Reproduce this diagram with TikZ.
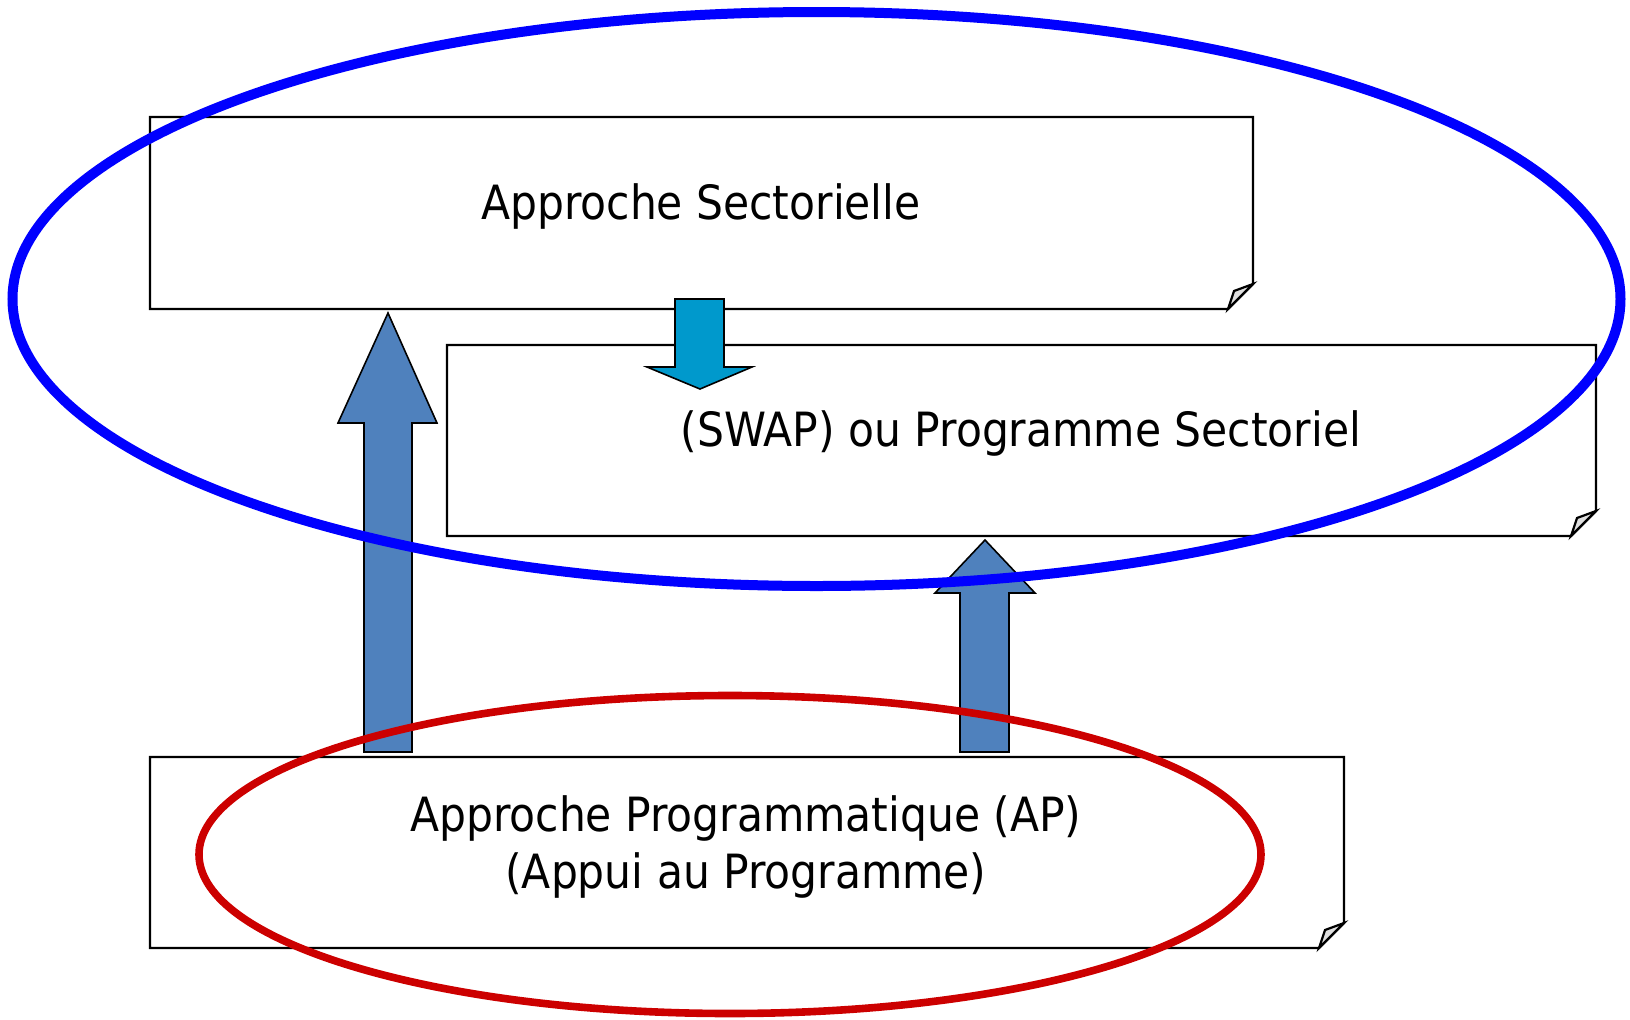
\documentclass[tikz,border=0pt]{standalone}
\usepackage{fontspec}
\setmainfont{DejaVu Sans Condensed}
\usepackage{tikz}

\definecolor{arrowblue}{RGB}{79,129,189}
\definecolor{arrowcyan}{RGB}{0,153,204}
\definecolor{ringblue}{RGB}{0,0,255}
\definecolor{ringred}{RGB}{204,0,0}

% box with a folded corner at the bottom right
\newcommand{\foldbox}[5]{%
  \draw[boxline] (#2,#3) -- (#4,#3) -- (#4,#5-25) -- (#4-25,#5) -- (#2,#5) -- cycle;
  \filldraw[boxline, fill=gray!25] (#4,#5-25) -- (#4-19,#5-18) -- (#4-25,#5) -- cycle;
  \coordinate (#1) at ({(#2+#4)/2},{(#3+#5)/2});
}

\begin{document}
\begin{tikzpicture}[x=0.5pt, y=-0.5pt, semithick]
\tikzset{boxline/.style={draw=black, line width=1.1pt, line join=miter},
         blockarrow/.style={draw=black, line width=0.8pt, fill=arrowblue},
         label/.style={font=\fontsize{23.6}{28.5}\selectfont, align=center, inner sep=0pt},
         ring/.style={line width=#1}}
\useasboundingbox (0,0) rectangle (1630,1019);

\foldbox{sect}{150}{117}{1253}{309}
\foldbox{swap}{447}{345}{1596}{536}
\foldbox{prog}{150}{757}{1344}{948}

\node[label, anchor=base] (A) at (701,219) {Approche Sectorielle};
\node[label, anchor=base] (B) at (1021,446) {(SWAP) ou Programme Sectoriel};
\node[label]              (C) at (746,847) {Approche Programmatique (AP)\\(Appui au Programme)};

% block arrows
\filldraw[blockarrow] (364,752) -- (364,423) -- (338,423) -- (388,313) -- (437,423) -- (412,423) -- (412,752) -- cycle;
\filldraw[blockarrow] (960,752) -- (960,593) -- (935,593) -- (985,540) -- (1035,593) -- (1009,593) -- (1009,752) -- cycle;
\filldraw[blockarrow, fill=arrowcyan] (675,299) -- (724,299) -- (724,367) -- (752,367) -- (700,389) -- (647,367) -- (675,367) -- cycle;

% the two rings
\draw[ring=5pt, ringblue] (816.5,299) ellipse [x radius=402pt, y radius=143.5pt];
\draw[ring=3.8pt, ringred] (730,854.5) ellipse [x radius=265.5pt, y radius=79.5pt];

\end{tikzpicture}
\end{document}
